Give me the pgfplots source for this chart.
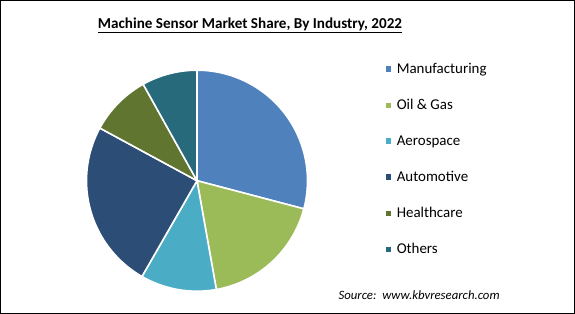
\documentclass[border=0pt]{standalone}
\usepackage{pgfplots}
\pgfplotsset{compat=1.18}
\usepackage{fontspec}
\setmainfont{Carlito}
\definecolor{cManu}{HTML}{4F81BD}
\definecolor{cOil}{HTML}{9BBB59}
\definecolor{cAero}{HTML}{4BACC6}
\definecolor{cAuto}{HTML}{2C4D75}
\definecolor{cHealth}{HTML}{5F7530}
\definecolor{cOther}{HTML}{276A7C}
% shares (%) : Manufacturing 29.1, Oil & Gas 18.1, Aerospace 11.1, Automotive 24.6, Healthcare 9.0, Others 8.1
\def\cx{197}\def\cy{133.3}\def\rr{110.5}
\begin{document}
\begin{tikzpicture}
\begin{axis}[
  scale only axis, width=575bp, height=314bp,
  xmin=0, xmax=575, ymin=0, ymax=314,
  hide axis, clip=false,
  legend image code/.code={\fill[#1] (0bp,-3.5bp) rectangle (7bp,3.5bp);},
  legend style={at={(axis cs:384,253)}, anchor=north west, draw=none, fill=none,
    font=\fontsize{15}{17}\selectfont, row sep=20.4bp, inner sep=0pt,
    nodes={inner sep=2bp}, column sep=2bp},
  legend cell align=left,
  every axis plot/.append style={draw=white, line width=1.6bp, samples=80, smooth},
]
\draw[black, line width=1.2bp] (axis cs:0.6,0.6) rectangle (axis cs:574.4,313.4);
\addplot[fill=cManu, domain={90-3.6*0}:{90-3.6*29.1}] ({\cx+\rr*cos(x)},{\cy+\rr*sin(x)}) -- (axis cs:\cx,\cy) -- cycle;
\addlegendentry{Manufacturing}
\addplot[fill=cOil, domain={90-3.6*29.1}:{90-3.6*47.2}] ({\cx+\rr*cos(x)},{\cy+\rr*sin(x)}) -- (axis cs:\cx,\cy) -- cycle;
\addlegendentry{Oil \& Gas}
\addplot[fill=cAero, domain={90-3.6*47.2}:{90-3.6*58.3}] ({\cx+\rr*cos(x)},{\cy+\rr*sin(x)}) -- (axis cs:\cx,\cy) -- cycle;
\addlegendentry{Aerospace}
\addplot[fill=cAuto, domain={90-3.6*58.3}:{90-3.6*82.9}] ({\cx+\rr*cos(x)},{\cy+\rr*sin(x)}) -- (axis cs:\cx,\cy) -- cycle;
\addlegendentry{Automotive}
\addplot[fill=cHealth, domain={90-3.6*82.9}:{90-3.6*91.9}] ({\cx+\rr*cos(x)},{\cy+\rr*sin(x)}) -- (axis cs:\cx,\cy) -- cycle;
\addlegendentry{Healthcare}
\addplot[fill=cOther, domain={90-3.6*91.9}:{90-3.6*100}] ({\cx+\rr*cos(x)},{\cy+\rr*sin(x)}) -- (axis cs:\cx,\cy) -- cycle;
\addlegendentry{Others}
\node[font=\fontsize{15.2}{17}\selectfont\bfseries] at (axis cs:250,289) {\underline{Machine Sensor Market Share, By Industry, 2022}};
\node[font=\fontsize{12.8}{15}\selectfont\itshape, anchor=west] at (axis cs:335,19) {Source:\ \ www.kbvresearch.com};
\end{axis}
\end{tikzpicture}
\end{document}
